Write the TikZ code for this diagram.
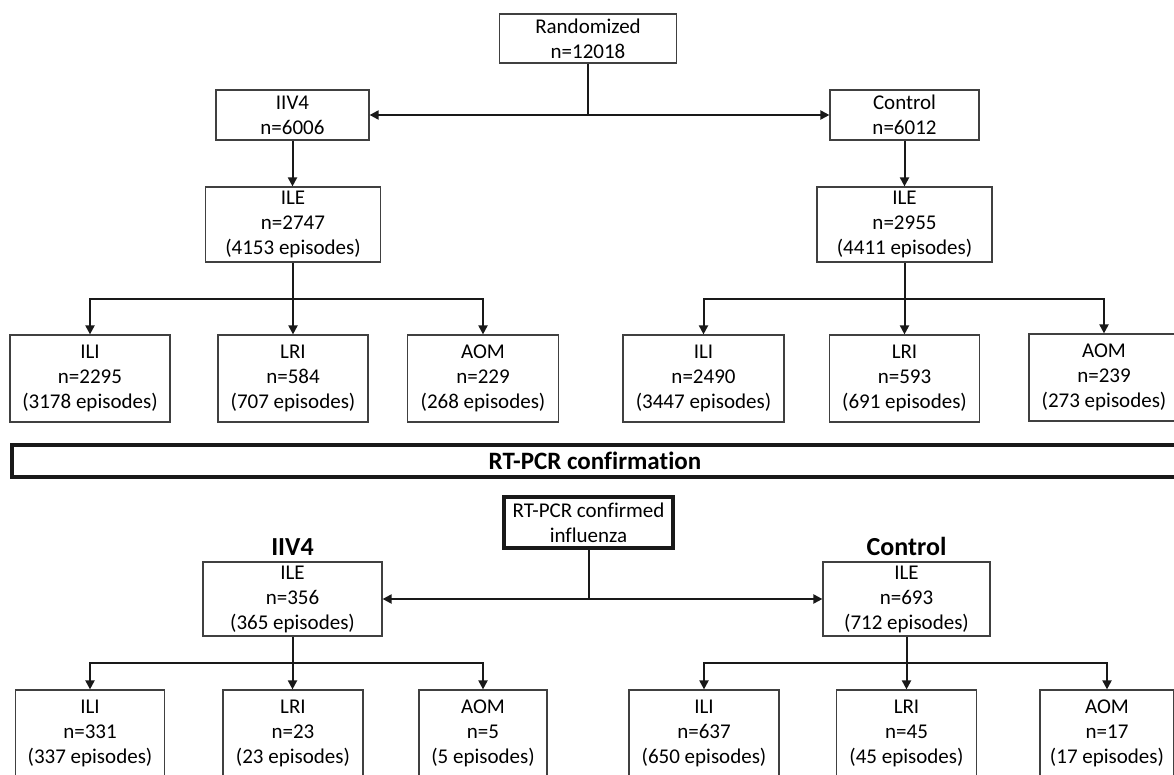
\documentclass[tikz,border=0pt]{standalone}
\usepackage{fontspec}
\setmainfont{Carlito}[Ligatures=NoCommon]
\usetikzlibrary{arrows.meta,positioning}

\tikzset{
  box/.style={draw=black!75, line width=1.2pt, inner sep=0pt, align=center,
    font=\fontsize{21}{25}\selectfont},
  thickbox/.style={box, draw=black!90, line width=3.5pt},
  conn/.style={draw=black!90, line width=2pt},
  arr/.style={conn, -{Triangle[length=9pt,width=9pt]}},
  grplabel/.style={inner sep=0pt, font=\fontsize{26}{30}\selectfont\bfseries},
}

\begin{document}
\begin{tikzpicture}[x=1pt,y=-1pt]
  \useasboundingbox (0,0) rectangle (1174,775);

  % Randomization
  \node[box, minimum width=177, minimum height=49] (rand) at (588,38.5) {Randomized\\n=12018};
  \node[box, minimum width=153, minimum height=50] (iivA) at (292.5,115) {IIV4\\n=6006};
  \node[box, minimum width=149, minimum height=50] (ctlA) at (904.5,115) {Control\\n=6012};

  % ILE, all episodes
  \node[box, minimum width=175, minimum height=75] (ileA) at (293,224.5) {ILE\\n=2747\\(4153 episodes)};
  \node[box, minimum width=175, minimum height=75] (ileB) at (904.5,224.5) {ILE\\n=2955\\(4411 episodes)};

  \node[box, minimum width=160, minimum height=87] (iliA) at (90,378.5) {ILI\\n=2295\\(3178 episodes)};
  \node[box, minimum width=150, minimum height=87] (lriA) at (293,378.5) {LRI\\n=584\\(707 episodes)};
  \node[box, minimum width=151, minimum height=87] (aomA) at (483,378.5) {AOM\\n=229\\(268 episodes)};
  \node[box, minimum width=161, minimum height=87] (iliB) at (703.5,378.5) {ILI\\n=2490\\(3447 episodes)};
  \node[box, minimum width=150, minimum height=87] (lriB) at (904.5,378.5) {LRI\\n=593\\(691 episodes)};
  \node[box, minimum width=150, minimum height=87] (aomB) at (1104,377.5) {AOM\\n=239\\(273 episodes)};

  % Connectors, top half
  \draw[conn] (rand.south) -- (rand.south |- iivA.east) coordinate (jA);
  \draw[arr] (jA) -- (iivA.east);
  \draw[arr] (jA) -- (ctlA.west);
  \draw[arr] (iivA.south) -- (iivA.south |- ileA.north);
  \draw[arr] (ctlA.south) -- (ctlA.south |- ileB.north);

  \path (ileA.south) ++(0,36) coordinate (brA);
  \draw[arr] (ileA.south) -- (ileA.south |- lriA.north);
  \draw[arr] (brA) -| (iliA.north);
  \draw[arr] (brA) -| (aomA.north);

  \path (ileB.south) ++(0,36) coordinate (brB);
  \draw[arr] (ileB.south) -- (ileB.south |- lriB.north);
  \draw[arr] (brB) -| (iliB.north);
  \draw[arr] (brB) -| (aomB.north);

  % Banner
  \draw[draw=black!90, line width=3.5pt] (12,445) rectangle (1190,477);
  \node[font=\fontsize{25}{30}\selectfont\bfseries] (rtpcr) at (595,461) {RT-PCR confirmation};

  % Confirmed influenza
  \node[thickbox, minimum width=169, minimum height=51] (conf) at (588.5,522.5) {RT-PCR confirmed\\influenza};
  \node[box, minimum width=179, minimum height=74] (ileC) at (292.5,599) {ILE\\n=356\\(365 episodes)};
  \node[box, minimum width=167, minimum height=74] (ileD) at (906.5,599) {ILE\\n=693\\(712 episodes)};
  \node[grplabel, above=6pt of ileC] (iivlab) {IIV4};
  \node[grplabel, above=6pt of ileD] (ctllab) {Control};

  \node[box, minimum width=149, minimum height=87] (iliC) at (90,733.5) {ILI\\n=331\\(337 episodes)};
  \node[box, minimum width=140, minimum height=87] (lriC) at (293,733.5) {LRI\\n=23\\(23 episodes)};
  \node[box, minimum width=128, minimum height=87] (aomC) at (483,733.5) {AOM\\n=5\\(5 episodes)};
  \node[box, minimum width=150, minimum height=87] (iliD) at (704,733.5) {ILI\\n=637\\(650 episodes)};
  \node[box, minimum width=140, minimum height=87] (lriD) at (906.5,733.5) {LRI\\n=45\\(45 episodes)};
  \node[box, minimum width=134, minimum height=87] (aomD) at (1107,733.5) {AOM\\n=17\\(17 episodes)};

  % Connectors, bottom half
  \draw[conn] (conf.south) -- (conf.south |- ileC.east) coordinate (jC);
  \draw[arr] (jC) -- (ileC.east);
  \draw[arr] (jC) -- (ileD.west);

  \path (ileC.south) ++(0,26) coordinate (brC);
  \draw[arr] (ileC.south) -- (ileC.south |- lriC.north);
  \draw[arr] (brC) -| (iliC.north);
  \draw[arr] (brC) -| (aomC.north);

  \path (ileD.south) ++(0,26) coordinate (brD);
  \draw[arr] (ileD.south) -- (ileD.south |- lriD.north);
  \draw[arr] (brD) -| (iliD.north);
  \draw[arr] (brD) -| (aomD.north);
\end{tikzpicture}
\end{document}
